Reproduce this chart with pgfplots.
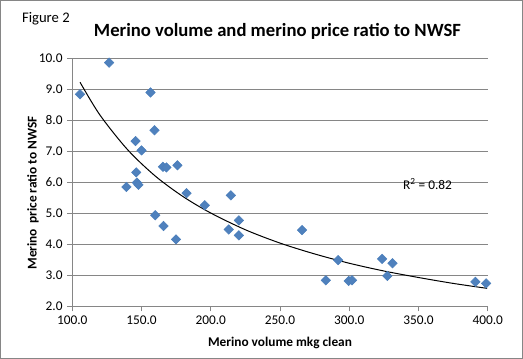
\documentclass[border=0pt]{standalone}
\usepackage{fontspec}
\setmainfont{Carlito}
\usepackage{pgfplots}
\pgfplotsset{compat=1.18}
\definecolor{xlblue}{HTML}{4F81BD}
\definecolor{xlblued}{HTML}{4A7EBB}
\definecolor{xlgray}{HTML}{868686}
\begin{document}
\begin{tikzpicture}
\useasboundingbox (0,0) rectangle (392.25pt,269.25pt);
\draw[xlgray, line width=0.75pt] (0.375pt,0.375pt) rectangle (391.875pt,268.875pt);
\node[anchor=west, font=\fontsize{11}{13}\selectfont] at (13pt,255pt) {Figure 2};
\node[font=\fontsize{14}{16}\selectfont\bfseries] at (208.1pt,245.6pt) {Merino volume and merino price ratio to NWSF};
\begin{axis}[
  at={(54.2pt,39.5pt)}, anchor=south west,
  scale only axis, width=311.6pt, height=186pt,
  xmin=100, xmax=400, ymin=2, ymax=10,
  xtick={100,150,...,400}, ytick={2,3,...,10},
  axis x line*=bottom, axis y line*=left,
  axis line style={xlgray, line width=0.75pt},
  tick style={xlgray, line width=0.75pt},
  tick align=outside, major tick length=3.75pt,
  ymajorgrids, grid style={xlgray, line width=0.75pt},
  /pgf/number format/.cd, fixed, fixed zerofill, precision=1, assume math mode=true, /pgfplots/.cd,
  tick label style={font=\fontsize{10}{12}\selectfont},
  xlabel={\bfseries Merino volume mkg clean},
  ylabel={\bfseries Merino\, price ratio to NWSF},
  label style={font=\fontsize{10}{12}\selectfont},
  xlabel style={at={(axis description cs:0.5,-0.148)}, anchor=center},
  ylabel style={at={(axis description cs:-0.0947,0.457)}, anchor=center},
  clip=false,
]
\addplot[only marks, mark=square*, mark size=2.5pt, mark options={rotate=45, fill=xlblue, draw=xlblued}] coordinates {
(105.6,8.84) (126.6,9.86) (156.5,8.90) (159.4,7.68) (145.7,7.33) (150.0,7.03)
(165.5,6.50) (168.0,6.48) (175.9,6.55) (146.2,6.32) (146.7,5.99) (147.8,5.92)
(139.1,5.85) (159.9,4.94) (165.9,4.59) (174.9,4.16) (182.5,5.65) (195.7,5.26)
(214.5,5.58) (220.3,4.77) (213.0,4.48) (220.3,4.29) (265.9,4.46) (292.0,3.49)
(283.1,2.84) (299.6,2.82) (302.0,2.84) (323.7,3.53) (331.2,3.39) (327.5,2.98)
(391.1,2.79) (398.8,2.74)
};
\addplot[black, line width=0.75pt, smooth, no marks] coordinates {
(105.6,9.23) (120,8.17) (140,7.05) (160,6.20) (180,5.54) (200,5.01) (225,4.47)
(250,4.04) (275,3.69) (300,3.39) (325,3.14) (350,2.93) (375,2.74) (399.6,2.58)
};
\node[font=\fontsize{10}{12}\selectfont] at (axis cs:356.5,5.95) {R\textsuperscript{2} = 0.82};
\end{axis}
\end{tikzpicture}
\end{document}
